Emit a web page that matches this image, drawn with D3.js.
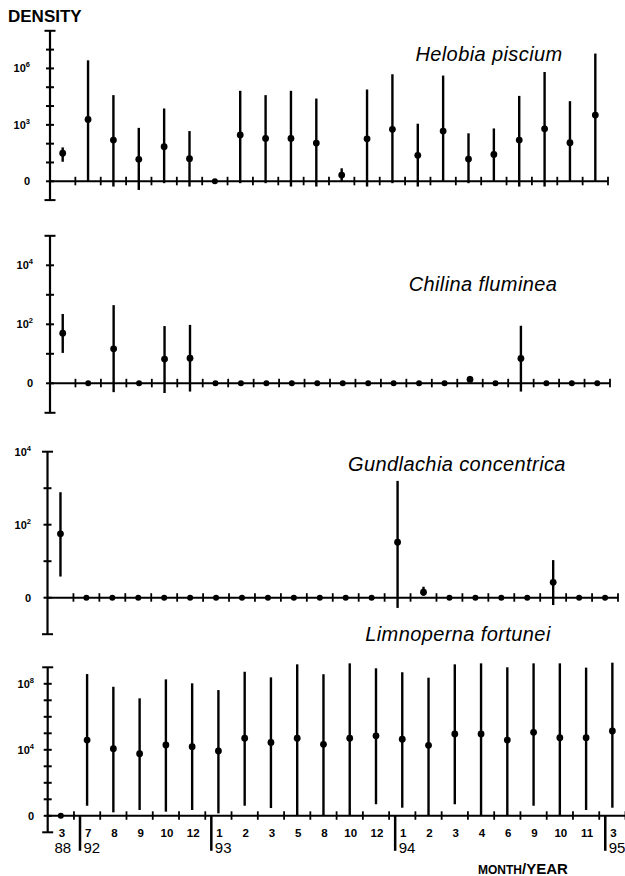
<!DOCTYPE html>
<html>
<head>
<meta charset="utf-8">
<script src="https://cdn.jsdelivr.net/npm/d3@7"></script>
<style>
  body { margin: 0; background: #fff; }
  text { font-family: Arial, "Liberation Sans", sans-serif; fill: #000; }
</style>
</head>
<body>
<div id="chart"></div>
<script>
// sampling dates (month / year)
const months = ["3", "7", "8", "9", "10", "12", "1", "2", "3", "5", "8", "10", "12", "1", "2", "3", "4", "6", "9", "10", "11", "3"];
const yearLabels = ["88", "92", "93", "94", "95"];
const yearStart = [0, 1, 6, 13, 21];

const species = ["Helobia piscium", "Chilina fluminea", "Gundlachia concentrica", "Limnoperna fortunei"];

// densities, in log10 units (0 = no animals), mean with low / high of the bar
const helobiaMean = [1.49, 3.29, 2.19, 1.17, 1.84, 1.20, 0, 2.46, 2.28, 2.28, 2.03, 0.33, 2.26, 2.76, 1.38, 2.67, 1.18, 1.43, 2.19, 2.79, 2.05, 3.52];
const helobiaLow = [1.04, 0, -0.28, -0.46, -0.1, -0.28, 0, -0.1, -0.1, -0.28, -0.28, 0, -0.28, -0.1, -0.28, 0, -0.1, 0, -0.28, -0.28, 0, 0];
const helobiaHigh = [1.80, 6.43, 4.58, 2.84, 3.87, 2.67, 0, 4.81, 4.58, 4.81, 4.40, 0.69, 4.88, 5.69, 3.06, 5.62, 2.55, 2.81, 4.54, 5.81, 4.26, 6.79];

const chilinaMean = [1.70, 0, 1.17, 0, 0.82, 0.85, 0, 0, 0, 0, 0, 0, 0, 0, 0, 0, 0.13, 0, 0.84, 0, 0, 0];
const chilinaLow = [1.03, 0, -0.3, 0, -0.33, -0.28, 0, 0, 0, 0, 0, 0, 0, 0, 0, 0, 0.05, 0, -0.28, 0, 0, 0];
const chilinaHigh = [2.35, 0, 2.65, 0, 1.94, 1.98, 0, 0, 0, 0, 0, 0, 0, 0, 0, 0, 0.25, 0, 1.95, 0, 0, 0];

const gundlachiaMean = [1.75, 0, 0, 0, 0, 0, 0, 0, 0, 0, 0, 0, 0, 1.52, 0.15, 0, 0, 0, 0, 0.42, 0, 0];
const gundlachiaLow = [0.58, 0, 0, 0, 0, 0, 0, 0, 0, 0, 0, 0, 0, -0.28, 0.05, 0, 0, 0, 0, -0.2, 0, 0];
const gundlachiaHigh = [2.89, 0, 0, 0, 0, 0, 0, 0, 0, 0, 0, 0, 0, 3.20, 0.30, 0, 0, 0, 0, 1.03, 0, 0];

const limnopernaMean = [0, 4.59, 4.07, 3.76, 4.29, 4.19, 3.93, 4.70, 4.45, 4.70, 4.33, 4.70, 4.85, 4.64, 4.27, 4.96, 4.96, 4.59, 5.06, 4.73, 4.73, 5.14];
const limnopernaLow = [0, 0.61, 0.21, 0.35, 0.25, 0.35, 0.15, 0.61, 0.47, 0, 0, 0, 0.70, 0.49, 0, 0.70, 0, 0, 0.61, 0, 0.35, 0.49];
const limnopernaHigh = [0, 8.59, 7.82, 7.12, 8.27, 8.03, 7.62, 8.73, 8.39, 9.18, 8.58, 9.24, 8.94, 8.70, 8.37, 9.18, 9.24, 9.00, 9.24, 9.24, 8.98, 9.28];

const meanSeries = [helobiaMean, chilinaMean, gundlachiaMean, limnopernaMean];
const lowSeries = [helobiaLow, chilinaLow, gundlachiaLow, limnopernaLow];
const highSeries = [helobiaHigh, chilinaHigh, gundlachiaHigh, limnopernaHigh];

// y axis: top exponent and the labelled exponents
const yTop = [8, 5, 4, 9];
const yLabelled = [[0, 3, 6], [0, 2, 4], [0, 2, 4], [0, 4, 8]];

// panel placement (the scanned panels are not quite aligned)
const layout = [
    { x0: 50, x1: 608, y0: 200.1, y1: 30.8, labelX: 30, titleX: 489, titleY: 61 },
    { x0: 50, x1: 610, y0: 412.8, y1: 235.8, labelX: 33, titleX: 483, titleY: 291 },
    { x0: 47.5, x1: 618, y0: 634.2, y1: 451.7, labelX: 31, titleX: 457, titleY: 471 },
    { x0: 47.7, x1: 625.5, y0: 832.3, y1: 667.3, labelX: 34, titleX: 458, titleY: 641 }
];

const svg = d3.select("#chart").append("svg")
    .attr("width", 625)
    .attr("height", 876);

svg.append("text")
    .attr("x", 8).attr("y", 21.5)
    .style("font-size", "17px").style("font-weight", "bold")
    .text("DENSITY");

let xLast, yLast;

species.forEach((name, p) => {
    const L = layout[p];
    const x = d3.scaleBand().domain(d3.range(months.length)).range([L.x0, L.x1]);
    const y = d3.scaleLinear().domain([-1, yTop[p]]).range([L.y0, L.y1]);
    const cx = i => x(i) + x.bandwidth() / 2;
    const g = svg.append("g");

    // x axis on the zero line, ticks between the dates
    g.append("line")
        .attr("x1", L.x0).attr("x2", L.x1)
        .attr("y1", y(0)).attr("y2", y(0))
        .attr("stroke", "#000").attr("stroke-width", 2);
    g.selectAll(".xtick")
        .data(d3.range(months.length))
        .join("line")
        .attr("x1", i => x(i) + x.bandwidth()).attr("x2", i => x(i) + x.bandwidth())
        .attr("y1", y(0) - 4.5).attr("y2", y(0) + 4)
        .attr("stroke", "#000").attr("stroke-width", 1.8);

    // y axis
    g.append("line")
        .attr("x1", L.x0).attr("x2", L.x0)
        .attr("y1", y(-1)).attr("y2", y(yTop[p]))
        .attr("stroke", "#000").attr("stroke-width", 2.2);
    const yt = d3.range(-1, yTop[p] + 1);
    g.selectAll(".ytick")
        .data(yt)
        .join("line")
        .attr("x1", d => L.x0 - (d === -1 || d === yTop[p] ? 5.5 : 4))
        .attr("x2", d => L.x0 + (d === -1 || d === yTop[p] ? 5.5 : 4))
        .attr("y1", d => y(d)).attr("y2", d => y(d))
        .attr("stroke", "#000").attr("stroke-width", 2);

    const lab = g.selectAll(".ylab")
        .data(yLabelled[p])
        .join("text")
        .attr("x", L.labelX)
        .attr("y", d => y(d) + 4)
        .attr("text-anchor", "end")
        .style("font-size", "11px").style("font-weight", "bold");
    lab.filter(d => d === 0).text("0");
    lab.filter(d => d !== 0).each(function (d) {
        const t = d3.select(this);
        t.append("tspan").text("10");
        t.append("tspan").attr("dy", -5).style("font-size", "7.5px").text(d);
    });

    // error bars and means
    const rows = meanSeries[p].map((m, i) => ({ i, m, lo: lowSeries[p][i], hi: highSeries[p][i] }));
    g.selectAll(".bar")
        .data(rows.filter(d => d.hi > d.lo))
        .join("line")
        .attr("x1", d => cx(d.i)).attr("x2", d => cx(d.i))
        .attr("y1", d => y(d.lo)).attr("y2", d => y(d.hi))
        .attr("stroke", "#000").attr("stroke-width", 2.4);
    g.selectAll(".pt")
        .data(rows)
        .join("circle")
        .attr("cx", d => cx(d.i)).attr("cy", d => y(d.m))
        .attr("r", d => d.m === 0 ? 3 : 3.4)
        .attr("fill", "#000");

    g.append("text")
        .attr("x", L.titleX).attr("y", L.titleY)
        .attr("text-anchor", "middle")
        .style("font-size", "20px").style("font-style", "italic")
        .style("letter-spacing", "0.4px")
        .text(name);

    xLast = x; yLast = y;
});

// month / year labels under the last panel
const bx = i => xLast(i) + xLast.bandwidth() / 2;
const y0 = yLast(0);
svg.selectAll(".month")
    .data(months)
    .join("text")
    .attr("x", (d, i) => bx(i) + 1)
    .attr("y", 836.5)
    .attr("text-anchor", "middle")
    .style("font-size", "11.5px").style("font-weight", "bold")
    .text(d => d);

const sepX = i => bx(i) - xLast.bandwidth() * 0.27;
svg.selectAll(".sep")
    .data(yearStart.slice(1))
    .join("line")
    .attr("x1", i => sepX(i)).attr("x2", i => sepX(i))
    .attr("y1", y0).attr("y2", y0 + 35)
    .attr("stroke", "#000").attr("stroke-width", 2.5);

svg.selectAll(".year")
    .data(yearLabels)
    .join("text")
    .attr("x", (d, k) => k === 0 ? bx(yearStart[k]) + 2 : sepX(yearStart[k]) + 3.5)
    .attr("y", 853)
    .attr("text-anchor", (d, k) => k === 0 ? "middle" : "start")
    .style("font-size", "15px")
    .text(d => d);

const axisTitle = svg.append("text")
    .attr("x", 478).attr("y", 874)
    .style("font-weight", "bold");
axisTitle.append("tspan").style("font-size", "12px").text("MONTH");
axisTitle.append("tspan").style("font-size", "15px").text("/YEAR");
</script>
</body>
</html>
